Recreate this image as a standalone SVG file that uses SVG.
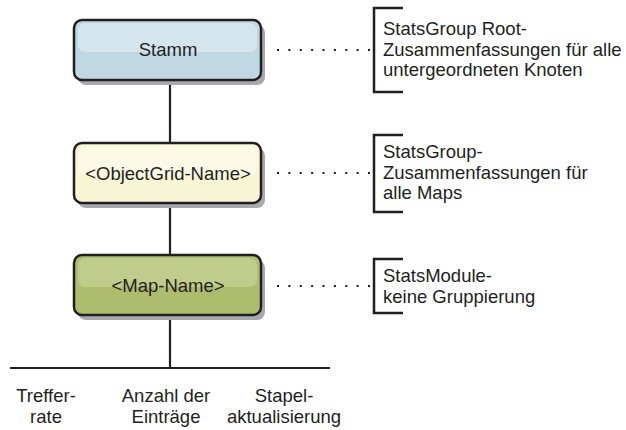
<svg xmlns="http://www.w3.org/2000/svg" width="626" height="430" viewBox="0 0 626 430">
<defs>
<style>
.shadow{fill:#a7a9ac}
.box{stroke:#231f20;stroke-width:2.5}
.t{font-family:"Liberation Sans",Arial,sans-serif;font-size:18.5px;fill:#231f20}
.nt{text-anchor:middle}
.ln{stroke:#231f20;stroke-width:2.2;fill:none}
.dot{stroke:#231f20;stroke-width:2;stroke-dasharray:2 9.375;fill:none}
.br{stroke:#231f20;stroke-width:2.5;fill:none}
</style>
</defs>
<g id="connectors">
<line class="ln" x1="170" y1="80" x2="170" y2="143"/>
<line class="ln" x1="170" y1="203" x2="170" y2="255"/>
<line class="ln" x1="170" y1="315" x2="170" y2="368"/>
<line class="ln" x1="10" y1="368" x2="330" y2="368"/>
<line class="dot" x1="277" y1="50" x2="372" y2="50"/>
<line class="dot" x1="277" y1="173" x2="372" y2="173"/>
<line class="dot" x1="277" y1="286" x2="372" y2="286"/>
</g>
<g id="stamm">
<rect class="shadow" x="78" y="25" width="187" height="60" rx="8"/>
<rect class="box" x="74" y="20" width="187" height="60" rx="8" fill="#c0d7e4"/>
<rect x="78" y="23" width="179" height="29" rx="7" fill="#d4e5ee"/>
<text class="t nt" x="168" y="56">Stamm</text>
</g>
<g id="objectgrid">
<rect class="shadow" x="78" y="148" width="187" height="60" rx="8"/>
<rect class="box" x="74" y="143" width="187" height="60" rx="8" fill="#f9f6d5"/>
<rect x="78" y="146" width="179" height="29" rx="7" fill="#fcfae6"/>
<text class="t nt" x="168" y="180">&lt;ObjectGrid-Name&gt;</text>
</g>
<g id="map">
<rect class="shadow" x="78" y="260" width="187" height="60" rx="8"/>
<rect class="box" x="74" y="255" width="187" height="60" rx="8" fill="#aebc6d"/>
<rect x="78" y="258" width="179" height="29" rx="7" fill="#bfcc8b"/>
<text class="t nt" x="168" y="292">&lt;Map-Name&gt;</text>
</g>
<g id="note-root">
<path class="br" d="M403 8 H374 V92 H403"/>
<text class="t" x="383" y="35">StatsGroup Root-</text>
<text class="t" x="383" y="55.5">Zusammenfassungen für alle</text>
<text class="t" x="383" y="76">untergeordneten Knoten</text>
</g>
<g id="note-grid">
<path class="br" d="M403 135 H374 V212 H403"/>
<text class="t" x="383" y="158">StatsGroup-</text>
<text class="t" x="383" y="178.5">Zusammenfassungen für</text>
<text class="t" x="383" y="199">alle Maps</text>
</g>
<g id="note-map">
<path class="br" d="M403 259 H374 V313 H403"/>
<text class="t" x="383" y="282">StatsModule-</text>
<text class="t" x="383" y="302.5">keine Gruppierung</text>
</g>
<g id="leaf-treffer">
<text class="t nt" x="46" y="402">Treffer-</text>
<text class="t nt" x="46" y="422.5">rate</text>
</g>
<g id="leaf-anzahl">
<text class="t nt" x="166" y="402">Anzahl der</text>
<text class="t nt" x="166" y="422.5">Einträge</text>
</g>
<g id="leaf-stapel">
<text class="t nt" x="284" y="402">Stapel-</text>
<text class="t nt" x="284" y="422.5">aktualisierung</text>
</g>
</svg>
